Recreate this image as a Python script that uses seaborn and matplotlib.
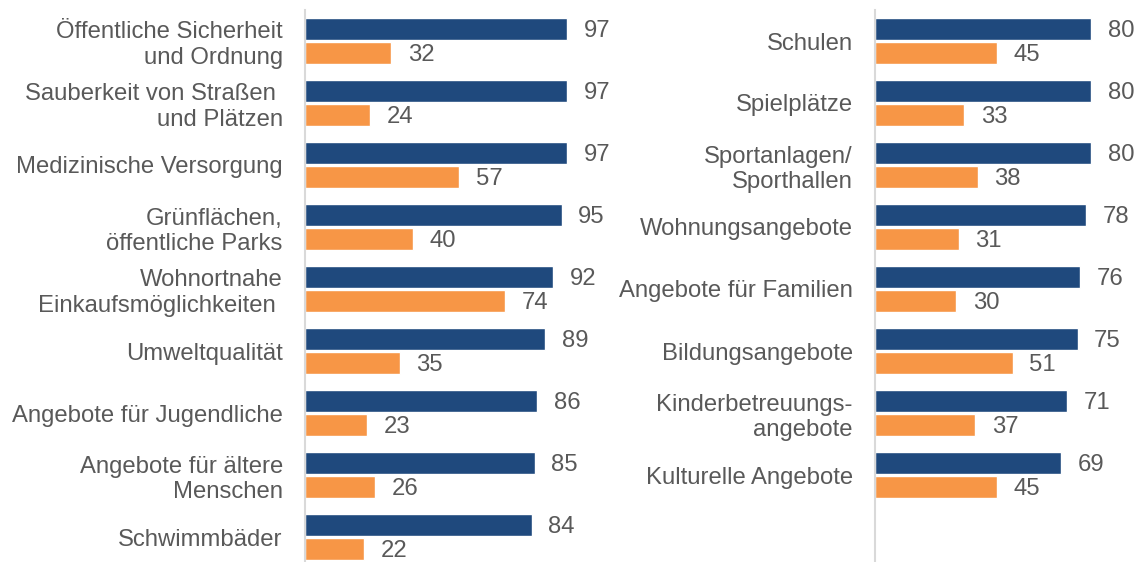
import matplotlib
matplotlib.use("Agg")
import matplotlib.pyplot as plt
import pandas as pd
import seaborn as sns

# left block of categories and the two series (dark = first bar, orange = second bar)
left_labels = ["Öffentliche Sicherheit\nund Ordnung", "Sauberkeit von Straßen \nund Plätzen",
               "Medizinische Versorgung", "Grünflächen,\nöffentliche Parks",
               "Wohnortnahe\nEinkaufsmöglichkeiten ", "Umweltqualität",
               "Angebote für Jugendliche", "Angebote für ältere\nMenschen", "Schwimmbäder"]
left_first = [97, 97, 97, 95, 92, 89, 86, 85, 84]
left_second = [32, 24, 57, 40, 74, 35, 23, 26, 22]

# right block
right_labels = ["Schulen", "Spielplätze", "Sportanlagen/\nSporthallen", "Wohnungsangebote",
                "Angebote für Familien", "Bildungsangebote", "Kinderbetreuungs-\nangebote",
                "Kulturelle Angebote"]
right_first = [80, 80, 80, 78, 76, 75, 71, 69]
right_second = [45, 33, 38, 31, 30, 51, 37, 45]

series_names = ["Wichtigkeit", "Zufriedenheit"]
colors = ["#1F497D", "#F79646"]

sns.set_theme(style="white")
plt.rcParams["font.family"] = ["Liberation Sans", "DejaVu Sans"]

text_col = "#595959"
fs = 17.2


def long_df(labels, first, second):
    rows = []
    for lab, a, b in zip(labels, first, second):
        rows.append({"Kategorie": lab, "Serie": series_names[0], "Wert": a})
        rows.append({"Kategorie": lab, "Serie": series_names[1], "Wert": b})
    return pd.DataFrame(rows)


fig = plt.figure(figsize=(11.41, 5.62), dpi=100)
W, H = 1141, 562
px = 2.7  # pixels per unit

panels = [
    (305, 300, left_labels, left_first, left_second),
    (875, 266, right_labels, right_first, right_second),
]

for x0, width, labels, first, second in panels:
    ax = fig.add_axes([x0 / W, 0, width / W, (H - 10) / H])
    df = long_df(labels, first, second)
    sns.barplot(data=df, y="Kategorie", x="Wert", hue="Serie", order=labels,
                hue_order=series_names, palette=colors, saturation=1, orient="h",
                width=0.76, gap=0.08, legend=False, ax=ax)
    for cont in ax.containers:
        anns = ax.bar_label(cont, fmt="%d", padding=12, fontsize=fs, color=text_col)
        for a in anns:
            a.xyann = (12, -1.5)  # nudge numbers down a little
    ax.set_xlim(0, width / px)
    ax.set_ylim(552 / 62 - 0.5, -0.5)
    ax.set_xlabel("")
    ax.set_ylabel("")
    ax.set_xticks([])
    ax.tick_params(axis="y", length=0, pad=16, labelsize=fs, labelcolor=text_col)
    for lab in ax.get_yticklabels():
        lab.set_horizontalalignment("right")
    for s in ["top", "right", "bottom"]:
        ax.spines[s].set_visible(False)
    ax.spines["left"].set_color("#D9D9D9")
    ax.spines["left"].set_linewidth(1.5)
    ax.patch.set_alpha(0)

fig.savefig("out.png", dpi=100)
